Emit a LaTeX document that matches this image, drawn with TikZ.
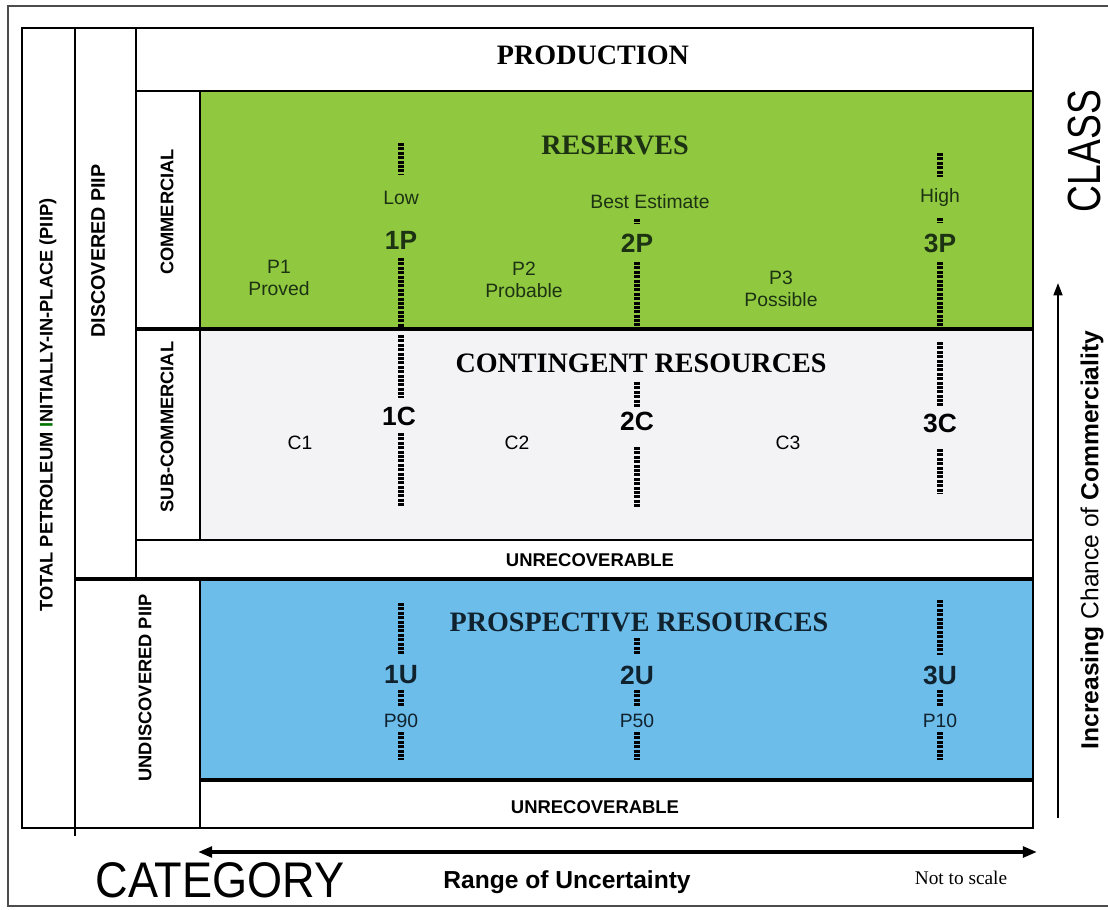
\documentclass[tikz,border=0pt]{standalone}
\usepackage{fontspec}
\setmainfont{Liberation Serif}
\setsansfont{Liberation Sans}
\newfontfamily\classfont[FakeStretch=0.8]{Liberation Sans}
\newfontfamily\catfont[FakeStretch=0.9]{Liberation Sans}
\usepackage{tikz}
\usetikzlibrary{arrows.meta}
\definecolor{resgreen}{HTML}{90C840}
\definecolor{prosblue}{HTML}{6DBDEB}
\definecolor{contgrey}{HTML}{F3F3F6}
\definecolor{inkgreen}{HTML}{1C3212}
\definecolor{inkblue}{HTML}{10222E}
\newcommand{\fsz}[2]{\fontsize{#1}{#2}\selectfont}

\begin{document}
\begin{tikzpicture}[
        x=0.02cm, y=-0.02cm,
        rule/.style={line width=1.1pt},
        heavy/.style={line width=2.8pt},
        ladder/.style={line width=3pt, dash pattern=on 1.7pt off 0.8pt},
        head/.style={font=\rmfamily\bfseries\fsz{16}{18}},
        pnum/.style={font=\sffamily\bfseries\fsz{15}{17}},
        small/.style={font=\sffamily\fsz{11}{12.5}, align=center},
        vlab/.style={rotate=90, font=\sffamily\bfseries\fsz{10.4}{12}},
        unrec/.style={font=\sffamily\bfseries\fsz{10.5}{12}},
        arr/.style={line width=1.2pt, -{Triangle[length=7pt, width=5pt]}},
    ]
    \useasboundingbox (0,0) rectangle (1108,909);

    % Bands
    \fill[resgreen]  (200,91)  rectangle (1033,329);
    \fill[contgrey]  (200,329) rectangle (1033,540);
    \fill[prosblue]  (200,579) rectangle (1033,780);

    % Frame and grid
    \draw[gray!60!black, line width=0.8pt] (1108,6) -- (8,6) -- (8,906) -- (1108,906);
    \draw[rule] (22,28) rectangle (1033,828);
    \draw[rule] (75,28) -- (75,836);
    \draw[rule] (136,28) -- (136,579);
    \draw[rule] (136,91) -- (1033,91);
    \draw[rule] (200,91) -- (200,540);
    \draw[rule] (200,579) -- (200,828);
    \draw[heavy] (136,329) -- (1033,329);
    \draw[line width=1.5pt] (136,540) -- (1033,540);
    \draw[heavy] (75,579) -- (1033,579);
    \draw[line width=1.8pt] (200,780) -- (1033,780);

    % Range ladders
    \foreach \x/\a/\b in {401/143/175, 401/258/328, 637/219/224, 637/262/328,
                          940/153/177, 940/218/223, 940/262/328,
                          401/335/398, 401/433/507, 637/382/407, 637/447/508,
                          940/342/407, 940/449/493,
                          401/603/655, 401/690/707, 401/732/760,
                          637/638/655, 637/690/707, 637/732/760,
                          940/600/655, 940/690/707, 940/732/760}
        \draw[ladder] (\x,\a) -- (\x,\b);

    % Left columns
    \node[vlab] (piip) at (48,405) {TOTAL PETROLEUM {\color{green!45!black}I}NITIALLY-IN-PLACE (PIIP)};
    \node[vlab, font=\sffamily\bfseries\fsz{11.2}{13}] (disc) at (98,251) {DISCOVERED PIIP};
    \node[vlab] (comm) at (167,212) {COMMERCIAL};
    \node[vlab] (subc) at (167,427) {SUB-COMMERCIAL};
    \node[vlab] (undisc) at (145,688) {UNDISCOVERED PIIP};

    % Production
    \node[head] (prod) at (593,55) {PRODUCTION};

    % Reserves
    \node[head, inkgreen] (res) at (615,145) {RESERVES};
    \node[small, inkgreen] (low)  at (401,198) {Low};
    \node[small, inkgreen] (best) at (650,202) {Best Estimate};
    \node[small, inkgreen] (high) at (940,198) {High};
    \node[pnum, inkgreen] (p1p) at (401,240) {1P};
    \node[pnum, inkgreen] (p2p) at (637,243) {2P};
    \node[pnum, inkgreen] (p3p) at (940,243) {3P};
    \node[small, inkgreen] (proved)   at (279,278) {P1\\Proved};
    \node[small, inkgreen] (probable) at (524,280) {P2\\Probable};
    \node[small, inkgreen] (possible) at (781,289) {P3\\Possible};

    % Contingent
    \node[head] (cont) at (641,363) {CONTINGENT RESOURCES};
    \node[pnum] (c1c) at (399,416) {1C};
    \node[pnum] (c2c) at (637,421) {2C};
    \node[pnum] (c3c) at (940,423) {3C};
    \node[small] (cc1) at (300,443) {C1};
    \node[small] (cc2) at (517,443) {C2};
    \node[small] (cc3) at (788,443) {C3};
    \node[unrec] (unrec1) at (590,560) {UNRECOVERABLE};

    % Prospective
    \node[head, inkblue] (pros) at (639,622) {PROSPECTIVE RESOURCES};
    \node[pnum, inkblue] (u1u) at (401,675) {1U};
    \node[pnum, inkblue] (u2u) at (637,675) {2U};
    \node[pnum, inkblue] (u3u) at (940,675) {3U};
    \node[small, inkblue] (p90) at (401,721) {P90};
    \node[small, inkblue] (p50) at (637,721) {P50};
    \node[small, inkblue] (p10) at (940,721) {P10};
    \node[unrec] (unrec2) at (595,807) {UNRECOVERABLE};

    % Class axis
    \node[rotate=90, font=\classfont\fsz{26.5}{28}, inner sep=0pt] (class) at (1084,151) {CLASS};
    \coordinate (comlow) at (1058,818);
    \coordinate (comhigh) at (1058,283);
    \draw[arr] (comlow) -- (comhigh);
    \node[rotate=90, font=\sffamily\bfseries\fsz{14}{16}] (chance) at (1092,540)
        {Increasing {\mdseries Chance of} Commerciality};

    % Category axis
    \coordinate (rngleft) at (198,852);
    \coordinate (rngright) at (1037,852);
    \draw[line width=2pt, {Triangle[length=8pt, width=6pt]}-{Triangle[length=8pt, width=6pt]}] (rngleft) -- (rngright);
    \node[font=\catfont\fsz{28.5}{30}, inner sep=0pt] (cat) at (220,880) {CATEGORY};
    \node[font=\sffamily\bfseries\fsz{14}{16}] (range) at (567,882) {Range of Uncertainty};
    \node[font=\rmfamily\fsz{11}{13}] (scale) at (961,878) {Not to scale};
\end{tikzpicture}
\end{document}
